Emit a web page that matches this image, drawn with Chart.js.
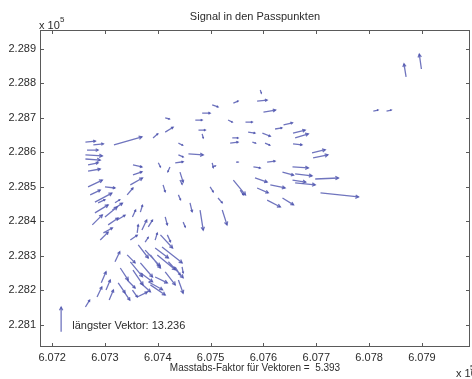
<!DOCTYPE html>
<html>
<head>
<meta charset="utf-8">
<script src="https://cdn.jsdelivr.net/npm/chart.js@4"></script>
<style>
  html, body { margin: 0; padding: 0; background: #fff; }
  canvas { display: block; }
</style>
</head>
<body>
<canvas id="quiver" width="472" height="379"></canvas>
<script>
// Signal in den Passpunkten – quiver plot (coordinates in metres)

// vector start points (x = Rechtswert, y = Hochwert) and components (scaled)
const vecX = [607899, 607870, 607833, 607808, 607263, 607278, 607317, 607391, 607414, 607414,
  607266, 607263, 607263, 607268, 607268, 607268, 607300, 607281, 607353, 607353,
  607348, 607342, 607401, 607423, 607433, 607439, 607439, 607458, 607442, 607410,
  607439, 607484, 607471, 607484, 607594, 607588, 607543, 607503, 607600, 607533,
  607566, 607622, 607638, 607656, 607660, 607571, 607598, 607541, 607537, 607579,
  607603, 607656, 607692, 607694, 607607, 607548, 607581, 607503, 607655, 607636,
  607660, 607698, 607655, 607584, 607660, 607613, 607588, 607543, 607708, 607499,
  607514, 607607, 607636, 607556, 607522, 607480, 607287, 607281, 607300, 607297,
  607306, 607323, 607319, 607352, 607367, 607361, 607370, 607382, 607348, 607376,
  607395, 607414, 607418, 607448, 607461, 607395, 607399, 607408, 607342, 607348,
  607367, 607367, 607382, 607395, 607342, 607334, 607352, 607361, 607367, 607414,
  607439, 607433, 607446, 607293, 607285, 607263, 607302, 607477, 607503, 607442,
  607386, 607329, 607376, 607420, 607353, 607386, 607325, 607405, 607363, 607276,
  607291, 607314, 607272, 607319, 607308];
const vecY = [228842, 228819, 228720, 228720, 228630, 228622, 228622, 228642, 228659, 228700,
  228607, 228593, 228581, 228564, 228546, 228500, 228500, 228456, 228564, 228535,
  228506, 228477, 228570, 228558, 228570, 228627, 228593, 228596, 228543, 228506,
  228477, 228654, 228694, 228714, 228781, 228749, 228743, 228738, 228717, 228694,
  228688, 228668, 228680, 228656, 228642, 228659, 228656, 228642, 228627, 228630,
  228627, 228625, 228599, 228584, 228572, 228572, 228558, 228558, 228558, 228543,
  228538, 228523, 228520, 228526, 228512, 228506, 228497, 228520, 228483, 228500,
  228468, 228462, 228468, 228491, 228433, 228433, 228454, 228425, 228413, 228367,
  228390, 228404, 228454, 228413, 228427, 228367, 228375, 228384, 228346, 228340,
  228346, 228413, 228361, 228398, 228454, 228323, 228303, 228326, 228303, 228283,
  228280, 228251, 228225, 228239, 228230, 228201, 228201, 228181, 228222, 228254,
  228230, 228268, 228268, 228222, 228181, 228152, 228201, 228665, 228570, 228520,
  228303, 228265, 228317, 228283, 228259, 228216, 228222, 228361, 228332, 228390,
  228346, 228433, 228477, 228283, 228172];
const vecU = [-4, -4, 9, 9, 19, 19, 53, 9, 15, 8,
  21, 32, 28, 19, 23, 27, 19, 32, 17, 17,
  23, 11, 4, -4, 15, 8, 9, 28, 6, 4,
  4, 2, 13, 15, 2, 19, 9, 11, 23, 8,
  13, 13, 17, 23, 25, 13, 15, 11, 15, 6,
  9, 17, 25, 28, 15, 4, 13, 6, 30, 21,
  32, 44, 25, 23, 38, 28, 21, 23, 72, 6,
  8, 25, 21, 6, 9, 6, 13, 25, 23, 17,
  19, 15, 9, 6, 4, 2, 9, 8, 13, 6,
  4, 4, 6, 4, 4, 25, 34, 38, 15, 23,
  23, 23, 27, 23, 15, 13, 9, 19, 19, 19,
  9, 9, 2, 9, 9, 8, 8, 13, 2, 4,
  19, 15, 28, 28, 19, 28, 13, 23, 19, 19,
  15, 19, 19, 9, 8];
const vecV = [43, 38, 3, 3, 3, 3, 23, 12, 14, -3,
  0, -3, -3, 6, 6, 20, -3, 26, -6, 9,
  20, 20, -12, -14, 3, -6, -6, -3, -29, -20,
  -14, -12, 0, 0, -9, 3, 6, -6, 6, -6,
  0, 3, 6, 9, 12, -3, -9, 0, 3, -3,
  -6, -3, 9, 9, 3, 0, -3, 3, -3, -9,
  -6, 3, -6, -12, -6, -9, -14, -43, -12, -14,
  -14, -20, -20, -14, -43, -58, 9, 23, 29, 14,
  20, 14, 9, 20, 20, 23, 29, 20, 14, 14,
  20, -23, -20, -14, -26, -29, -43, -46, -23, -43,
  -41, -26, -23, -17, -23, -29, -20, 14, -26, -38,
  -38, -23, -17, 32, 29, 20, 29, 0, -14, -12,
  -38, -35, -46, -46, -43, -29, -29, -38, -38, 29,
  23, 20, 14, 29, 29];

// reference arrow: longest vector
const longestVector = 13.236;
const scaleFactor = 5.393;
const refX = [607217];
const refY = [228080];
const refU = [0];
const refV = [71.4];

// axes
const xTicks = [607200, 607300, 607400, 607500, 607600, 607700, 607800, 607900];
const yTicks = [228100, 228200, 228300, 228400, 228500, 228600, 228700, 228800, 228900];
const xMin = 607177, xMax = 607991;
const yMin = 228036, yMax = 228955;

const FONT = '"Liberation Sans", Arial, Helvetica, sans-serif';
const TXT = '#2b2b2b';
const VEC = 'rgba(72, 78, 172, 0.78)';

function shafts(xs, ys, us, vs) {
  const pts = [];
  xs.forEach((x, i) => {
    pts.push({ x: x, y: ys[i] });
    pts.push({ x: x + us[i], y: ys[i] + vs[i] });
    pts.push({ x: x + us[i], y: null });
  });
  return pts;
}

function drawHeads(ctx, sx, sy, xs, ys, us, vs) {
  xs.forEach((x0, i) => {
    const p0x = sx.getPixelForValue(x0), p0y = sy.getPixelForValue(ys[i]);
    const p1x = sx.getPixelForValue(x0 + us[i]), p1y = sy.getPixelForValue(ys[i] + vs[i]);
    const dx = p1x - p0x, dy = p1y - p0y;
    const len = Math.hypot(dx, dy);
    if (len < 1) return;
    const h = Math.min(len * 0.25, 3.5);
    const a = Math.atan2(dy, dx);
    ctx.beginPath();
    ctx.moveTo(p1x - h * Math.cos(a - 0.5), p1y - h * Math.sin(a - 0.5));
    ctx.lineTo(p1x, p1y);
    ctx.lineTo(p1x - h * Math.cos(a + 0.5), p1y - h * Math.sin(a + 0.5));
    ctx.stroke();
  });
}

// arrow heads, box with inward ticks, title and labels
const matlabLook = {
  id: 'matlabLook',
  afterDatasetsDraw(chart) {
    const { ctx, scales: { x, y } } = chart;
    ctx.save();
    ctx.strokeStyle = VEC;
    ctx.lineWidth = 1.3;
    drawHeads(ctx, x, y, vecX, vecY, vecU, vecV);
    drawHeads(ctx, x, y, refX, refY, refU, refV);
    ctx.restore();
  },
  afterDraw(chart) {
    const { ctx, chartArea: a, scales: { x, y } } = chart;
    ctx.save();
    ctx.strokeStyle = '#5a5a5a';
    ctx.lineWidth = 1;
    ctx.strokeRect(a.left + 0.5, a.top + 0.5, a.right - a.left - 1, a.bottom - a.top - 1);
    ctx.beginPath();
    xTicks.forEach(v => {
      const px = Math.round(x.getPixelForValue(v)) + 0.5;
      ctx.moveTo(px, a.bottom); ctx.lineTo(px, a.bottom - 4);
      ctx.moveTo(px, a.top); ctx.lineTo(px, a.top + 4);
    });
    yTicks.forEach(v => {
      const py = Math.round(y.getPixelForValue(v)) + 0.5;
      ctx.moveTo(a.left, py); ctx.lineTo(a.left + 4, py);
      ctx.moveTo(a.right, py); ctx.lineTo(a.right - 4, py);
    });
    ctx.stroke();

    ctx.fillStyle = TXT;
    ctx.textBaseline = 'middle';
    ctx.textAlign = 'center';
    ctx.font = '11px ' + FONT;
    ctx.fillText('Signal in den Passpunkten', (a.left + a.right) / 2, 17);
    ctx.font = '10px ' + FONT;
    ctx.fillText('Masstabs-Faktor für Vektoren =  ' + scaleFactor.toFixed(3), (a.left + a.right) / 2, 368);

    // exponent labels
    ctx.textAlign = 'left';
    ctx.font = '11px ' + FONT;
    ctx.fillText('x 10', 39, 26);
    ctx.fillText('x 10', 456, 374);
    ctx.font = '8px ' + FONT;
    ctx.fillText('5', 60, 20);
    ctx.fillText('5', 470, 368);

    // annotation next to the reference arrow
    ctx.font = '11px ' + FONT;
    ctx.fillText('längster Vektor: ' + longestVector.toFixed(3),
      x.getPixelForValue(607238), y.getPixelForValue(228097));
    ctx.restore();
  }
};

const tickFont = { family: FONT, size: 11 };

new Chart(document.getElementById('quiver'), {
  type: 'scatter',
  data: {
    datasets: [
      {
        data: shafts(vecX, vecY, vecU, vecV),
        showLine: true,
        borderColor: VEC,
        borderWidth: 1.3,
        pointRadius: 0,
        spanGaps: false
      },
      {
        data: shafts(refX, refY, refU, refV),
        showLine: true,
        borderColor: VEC,
        borderWidth: 1.3,
        pointRadius: 0,
        spanGaps: false
      }
    ]
  },
  options: {
    responsive: false,
    animation: false,
    devicePixelRatio: 1,
    layout: { padding: { top: 30, right: 2, left: 0, bottom: 0 } },
    plugins: { legend: { display: false }, tooltip: { enabled: false }, title: { display: false } },
    scales: {
      x: {
        type: 'linear', min: xMin, max: xMax,
        afterFit: s => { s.height = 32; },
        afterBuildTicks: s => { s.ticks = xTicks.map(v => ({ value: v })); },
        grid: { display: false, drawTicks: false },
        border: { display: false },
        ticks: { padding: 4, font: tickFont, color: TXT, maxRotation: 0, autoSkip: false,
          callback: v => (v / 1e5).toFixed(3) }
      },
      y: {
        type: 'linear', min: yMin, max: yMax,
        afterFit: s => { s.width = 40; },
        afterBuildTicks: s => { s.ticks = yTicks.map(v => ({ value: v })); },
        grid: { display: false, drawTicks: false },
        border: { display: false },
        ticks: { padding: 4, font: tickFont, color: TXT, autoSkip: false,
          callback: v => (v / 1e5).toFixed(3) }
      }
    }
  },
  plugins: [matlabLook]
});
</script>
</body>
</html>
